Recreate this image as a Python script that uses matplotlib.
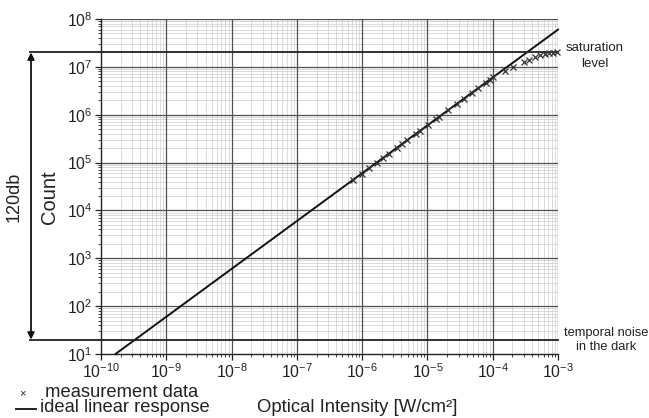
import numpy as np
import matplotlib
matplotlib.use("Agg")
import matplotlib.pyplot as plt
from matplotlib.ticker import LogLocator, NullFormatter
from matplotlib.transforms import blended_transform_factory
from matplotlib.lines import Line2D

plt.rcParams['font.family'] = ['Liberation Sans', 'DejaVu Sans']
plt.rcParams['mathtext.fontset'] = 'custom'
plt.rcParams['mathtext.rm'] = 'Liberation Sans'

# measured data (log10 intensity W/cm^2, log10 count)
meas_log_I = [-6.136, -6.008, -5.891, -5.778, -5.686, -5.590, -5.472, -5.395,
              -5.309, -5.181, -5.115, -4.998, -4.870, -4.819, -4.681, -4.553,
              -4.441, -4.324, -4.222, -4.109, -4.043, -3.992, -3.813, -3.685,
              -3.517, -3.445, -3.354, -3.277, -3.201, -3.134, -3.073, -3.021]
meas_log_C = [4.642, 4.770, 4.887, 5.000, 5.092, 5.188, 5.306, 5.383,
              5.469, 5.597, 5.663, 5.780, 5.908, 5.959, 6.097, 6.225,
              6.337, 6.454, 6.556, 6.669, 6.735, 6.786, 6.919, 7.003,
              7.107, 7.142, 7.212, 7.247, 7.268, 7.282, 7.295, 7.303]

# ideal linear response: count = gain * intensity
ideal_gain = 6e10
ideal_I_range = [1.67e-10, 1e-3]

saturation_level = 2e7
noise_level = 20

x_ticks = [1e-10, 1e-9, 1e-8, 1e-7, 1e-6, 1e-5, 1e-4, 1e-3]
y_ticks = [1e1, 1e2, 1e3, 1e4, 1e5, 1e6, 1e7, 1e8]
x_labels = ['$10^{-10}$', '$10^{-9}$', '$10^{-8}$', '$10^{-7}$',
            '$10^{-6}$', '$10^{-5}$', '$10^{-4}$', '$10^{-3}$']
y_labels = ['$10^{1}$', '$10^{2}$', '$10^{3}$', '$10^{4}$',
            '$10^{5}$', '$10^{6}$', '$10^{7}$', '$10^{8}$']

W, H = 649, 418
fig = plt.figure(figsize=(W / 100, H / 100), dpi=100)
L, R, T, B = 101, 558, 19, 354
ax = fig.add_axes([L / W, 1 - B / H, (R - L) / W, (B - T) / H])

ax.set_xscale('log')
ax.set_yscale('log')
ax.set_xlim(1e-10, 1e-3)
ax.set_ylim(1e1, 1e8)

ax.set_xticks(x_ticks)
ax.set_xticklabels(x_labels)
ax.set_yticks(y_ticks)
ax.set_yticklabels(y_labels)
ax.xaxis.set_minor_locator(LogLocator(base=10, subs=np.arange(2, 10), numticks=100))
ax.yaxis.set_minor_locator(LogLocator(base=10, subs=np.arange(2, 10), numticks=100))
ax.xaxis.set_minor_formatter(NullFormatter())
ax.yaxis.set_minor_formatter(NullFormatter())

ax.grid(True, which='minor', color='#d4d4d4', lw=0.6, zorder=0)
for xv in x_ticks[1:]:
    ax.axvline(xv, color='#505050', lw=0.9, zorder=1)
for yv in y_ticks[1:]:
    ax.axhline(yv, color='#505050', lw=0.9, zorder=1)
ax.set_axisbelow(True)

for s in ['top', 'right']:
    ax.spines[s].set_visible(False)
for s in ['left', 'bottom']:
    ax.spines[s].set_color('#222222')
    ax.spines[s].set_linewidth(1.0)

ax.tick_params(which='major', length=4, width=0.9, labelsize=11.3, colors='#222222', pad=2)
ax.tick_params(which='minor', length=2.5, width=0.6, colors='#222222')

# ideal line
Ii = np.array(ideal_I_range)
ax.plot(Ii, ideal_gain * Ii, color='#111111', lw=1.4, clip_on=False, zorder=3)

# measurement
ax.plot(10 ** np.array(meas_log_I), 10 ** np.array(meas_log_C), ls='none',
        marker='x', ms=4.8, mew=0.9, color='#333333', zorder=4, clip_on=False)

# horizontal level lines extending to left
x0 = (30 - L) / (R - L)
for lv in [saturation_level, noise_level]:
    ax.axhline(lv, xmin=x0, xmax=1, color='#222222', lw=1.3, clip_on=False, zorder=3)

tr = blended_transform_factory(ax.transAxes, ax.transData)
xa = (31 - L) / (R - L)
ax.annotate('', xy=(xa, saturation_level), xytext=(xa, noise_level),
            xycoords=tr, textcoords=tr,
            arrowprops=dict(arrowstyle='<|-|>', color='#111111', lw=1.3,
                            mutation_scale=10, shrinkA=0, shrinkB=0))

fig.text(14 / W, 1 - 197 / H, '120db', rotation=90, ha='center', va='center',
         fontsize=13, color='#222222')
fig.text(49 / W, 1 - 197 / H, 'Count', rotation=90, ha='center', va='center',
         fontsize=14.5, color='#222222')

fig.text(595 / W, 1 - 56 / H, 'saturation\nlevel', ha='center', va='center',
         fontsize=9.5, color='#222222', linespacing=1.4)
fig.text(564 / W, 1 - 340 / H, 'temporal noise\nin the dark', ha='left', va='center',
         fontsize=9.3, color='#222222', linespacing=1.2, multialignment='center')

fig.text(357 / W, 1 - 407 / H, 'Optical Intensity [W/cm\u00b2]', ha='center', va='center',
         fontsize=13.3, color='#222222')
fig.text(22 / W, 1 - 393 / H, '\u00d7', ha='center', va='center',
         fontsize=8, color='#222222')
fig.add_artist(Line2D([16 / W, 36 / W], [1 - 409 / H, 1 - 409 / H],
                      color='#222222', lw=1.4, transform=fig.transFigure))
fig.text(40 / W, 1 - 400 / H, ' measurement data\nideal linear response', ha='left',
         va='center', fontsize=13.2, color='#222222', linespacing=0.88)

fig.savefig('out.png', dpi=100)
